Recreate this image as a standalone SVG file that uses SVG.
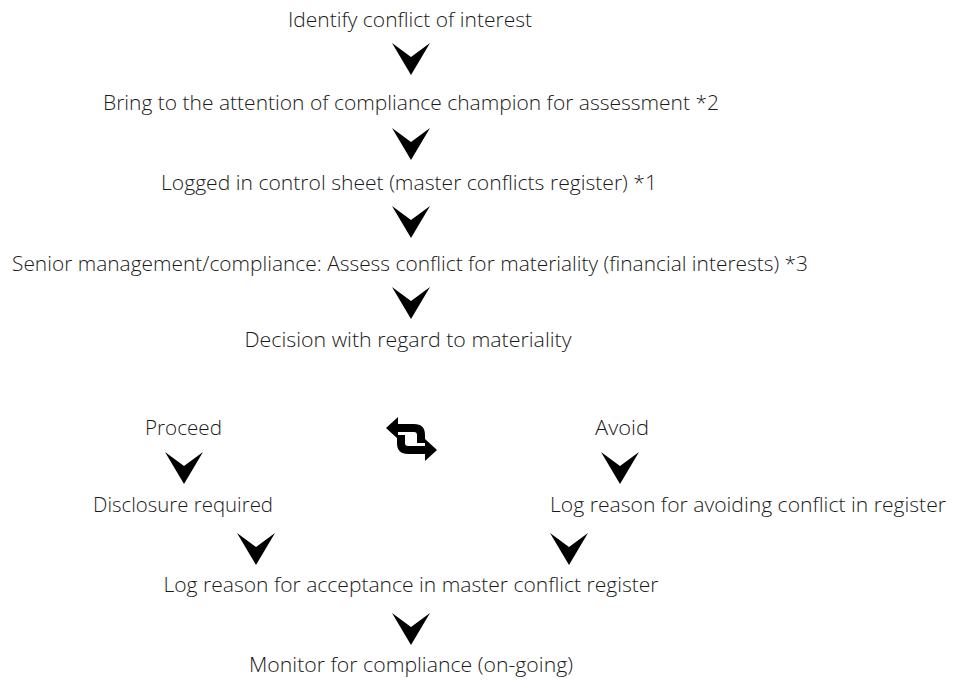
<svg xmlns="http://www.w3.org/2000/svg" width="953" height="682" viewBox="0 0 953 682">
<defs>
<style>
text{font-family:"Open Sans","Noto Sans","Liberation Sans",sans-serif;font-size:19.5px;font-weight:300;fill:#1a1a1a;text-anchor:middle}
.chev{fill:#000}
</style>
<path id="chev" d="M-19,0 L0,14 L19,0 L0,32 Z"/>
</defs>
<rect width="953" height="682" fill="#fff"/>
<g id="n1"><text x="410" y="27" textLength="244" lengthAdjust="spacingAndGlyphs">Identify conflict of interest</text></g>
<g id="n2"><text x="411" y="110" textLength="616" lengthAdjust="spacingAndGlyphs">Bring to the attention of compliance champion for assessment *2</text></g>
<g id="n3"><text x="409" y="190" textLength="496" lengthAdjust="spacingAndGlyphs">Logged in control sheet (master conflicts register) *1</text></g>
<g id="n4"><text x="410" y="271" textLength="796" lengthAdjust="spacingAndGlyphs">Senior management/compliance: Assess conflict for materiality (financial interests) *3</text></g>
<g id="n5"><text x="408" y="347" textLength="327" lengthAdjust="spacingAndGlyphs">Decision with regard to materiality</text></g>
<g id="n6"><text x="183.5" y="435" textLength="77" lengthAdjust="spacingAndGlyphs">Proceed</text></g>
<g id="n7"><text x="622" y="435" textLength="54" lengthAdjust="spacingAndGlyphs">Avoid</text></g>
<g id="n8"><text x="183" y="512" textLength="180" lengthAdjust="spacingAndGlyphs">Disclosure required</text></g>
<g id="n9"><text x="748" y="512" textLength="396" lengthAdjust="spacingAndGlyphs">Log reason for avoiding conflict in register</text></g>
<g id="n10"><text x="411" y="592" textLength="495" lengthAdjust="spacingAndGlyphs">Log reason for acceptance in master conflict register</text></g>
<g id="n11"><text x="411" y="672" textLength="324" lengthAdjust="spacingAndGlyphs">Monitor for compliance (on-going)</text></g>
<g id="connectors" class="chev">
<use href="#chev" x="411" y="43"/>
<use href="#chev" x="411" y="128"/>
<use href="#chev" x="411" y="206"/>
<use href="#chev" x="411" y="287"/>
<use href="#chev" x="184" y="452"/>
<use href="#chev" x="620" y="452"/>
<use href="#chev" x="256" y="533"/>
<use href="#chev" x="569" y="533"/>
<use href="#chev" x="411" y="613"/>
<g id="cycle">
<polygon points="386,428 398,417 398,439"/>
<path d="M397,428 H414 Q421,428 421,435 V443" fill="none" stroke="#000" stroke-width="8"/>
<polygon points="437,450 425,439 425,461"/>
<path d="M426,450 H408 Q401,450 401,443 V435" fill="none" stroke="#000" stroke-width="8"/>
</g>
</g>
</svg>
